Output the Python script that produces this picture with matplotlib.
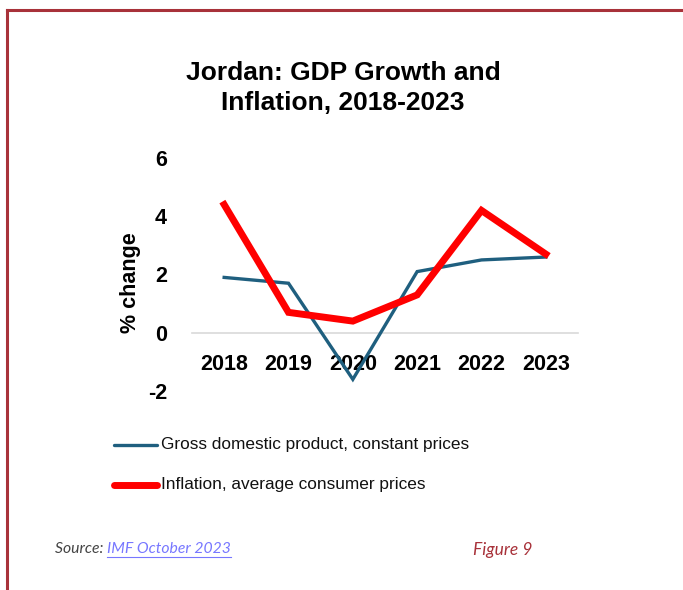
import matplotlib
matplotlib.use("Agg")
import matplotlib.pyplot as plt
from matplotlib.lines import Line2D

# IMF WEO (October 2023), Jordan, % change
years = ["2018", "2019", "2020", "2021", "2022", "2023"]
gdp_growth = [1.9, 1.7, -1.6, 2.1, 2.5, 2.6]
inflation = [4.4, 0.7, 0.4, 1.3, 4.2, 2.7]
y_ticks = [-2, 0, 2, 4, 6]

GDP_COLOR = "#1f5f7f"
INFL_COLOR = "#ff0000"
FRAME_COLOR = "#a8323a"

plt.rcParams["font.family"] = ["Liberation Sans", "DejaVu Sans"]

fig = plt.figure(figsize=(6.83, 5.90), dpi=100)

# page frame: top rule and left rule
fig.add_artist(Line2D([7 / 683, 1], [1 - 9.5 / 590] * 2, color=FRAME_COLOR, lw=2.2,
                      transform=fig.transFigure))
fig.add_artist(Line2D([7 / 683] * 2, [0, 1 - 9.5 / 590], color=FRAME_COLOR, lw=2.2,
                      transform=fig.transFigure))

# axes box in pixels: left 192, right 578, top 158 (y=6), bottom 391 (y=-2)
left, right, top, bottom = 192, 578, 158, 391
ax = fig.add_axes([left / 683, 1 - bottom / 590, (right - left) / 683, (bottom - top) / 590])

# category axis sits on the zero line, labels hang just below it
for side in ["top", "right", "left"]:
    ax.spines[side].set_visible(False)
ax.spines["bottom"].set_position(("data", 0))
ax.spines["bottom"].set_color("#d9d9d9")
ax.spines["bottom"].set_linewidth(1.2)
ax.spines["bottom"].set_zorder(1)

x = range(len(years))
ax.plot(x, gdp_growth, color=GDP_COLOR, lw=2.4, solid_joinstyle="miter", zorder=3)
ax.plot(x, inflation, color=INFL_COLOR, lw=5.0, solid_joinstyle="miter", zorder=4)

ax.set_xlim(-0.5, len(years) - 0.5)
ax.set_ylim(-2, 6)
ax.set_yticks(y_ticks)
ax.set_yticklabels([str(t) for t in y_ticks], fontsize=15.5, fontweight="bold")
ax.set_xticks(list(x))
ax.set_xticklabels(years, fontsize=15.5, fontweight="bold")
ax.tick_params(axis="x", length=0, pad=15)
ax.tick_params(axis="y", length=0, pad=18)
ax.set_ylabel("% change", fontsize=15.5, fontweight="bold")
ax.yaxis.set_label_coords(-0.131, 0.465)

fig.text(343 / 683, 1 - 88 / 590, "Jordan: GDP Growth and\nInflation, 2018-2023",
         ha="center", va="center", fontsize=19, fontweight="bold", linespacing=1.3)

# legend
legend_rows = [("Gross domestic product, constant prices", GDP_COLOR, 2.4, 445),
               ("Inflation, average consumer prices", INFL_COLOR, 5.0, 485)]
for label, color, lw, ypx in legend_rows:
    yf = 1 - ypx / 590
    fig.add_artist(Line2D([114 / 683, 157 / 683], [yf, yf], color=color, lw=lw,
                          solid_capstyle="round", transform=fig.transFigure))
    fig.text(161 / 683, yf, label, ha="left", va="center", fontsize=12.4,
             color="#111111")

# source and figure number
src = fig.text(55 / 683, 1 - 549 / 590, "Source: ", ha="left", va="center",
               fontsize=11.3, style="italic", color="#444444", family="Lato")
fig.canvas.draw()
bb = src.get_window_extent()
link = fig.text(bb.x1 / 683, 1 - 549 / 590, "IMF October 2023", ha="left", va="center",
                fontsize=11.3, style="italic", color="#7777ff", family="Lato")
fig.canvas.draw()
lb = link.get_window_extent()
fig.add_artist(Line2D([lb.x0 / 683, lb.x1 / 683], [1 - 557 / 590] * 2, color="#7777ff",
                      lw=0.8, transform=fig.transFigure))
fig.text(473 / 683, 1 - 550 / 590, "Figure 9", ha="left", va="center",
         fontsize=12.5, style="italic", color=FRAME_COLOR, family="Lato")

fig.savefig("out.png", dpi=100)
